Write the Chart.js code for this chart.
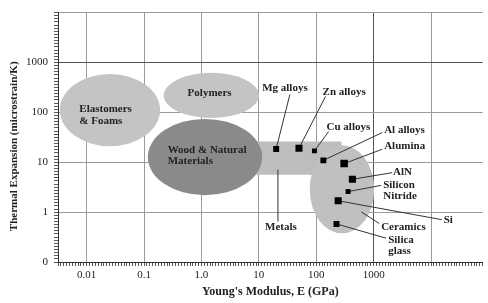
<!DOCTYPE html>
<html>
<head>
<meta charset="utf-8">
<script src="https://cdn.jsdelivr.net/npm/chart.js@4.4.1/dist/chart.umd.min.js"></script>
<style>
  html, body { margin: 0; padding: 0; background: #fff; }
  canvas { display: block; }
</style>
</head>
<body>
<canvas id="chart" width="488" height="303"></canvas>
<script>
// Material families (drawn as filled regions, in data units)
const regionNames = ['Elastomers & Foams', 'Polymers', 'Metals', 'Ceramics', 'Wood & Natural Materials'];
const regionShape = ['ellipse', 'ellipse', 'box', 'ellipse', 'ellipse'];
const regionXMin = [0.0034, 0.22, 1, 77, 0.116];
const regionXMax = [0.19, 10, 275, 1024, 11.4];
const regionYMin = [21, 77, 5.6, 0.376, 2.18];
const regionYMax = [590, 620, 26, 21.8, 74];

// Individual materials (black squares)
const materials = ['Mg alloys', 'Zn alloys', 'Cu alloys', 'Al alloys', 'Alumina', 'AlN', 'Silicon Nitride', 'Si', 'Silica glass'];
const modulus = [20, 50, 93, 133, 306, 426, 359, 241, 225];
const expansion = [18.5, 19.1, 16.9, 10.9, 9.4, 4.56, 2.58, 1.69, 0.58];

// Callout labels for the materials, with leader line end points
const materialLabels = ['Mg alloys', 'Zn alloys', 'Cu alloys', 'Al alloys', 'Alumina', 'AlN', 'Silicon\nNitride', 'Si', 'Silica\nglass'];
const labelX = [11.4, 129, 151, 1525, 1525, 2183, 1466, 16650, 1790];
const labelY = [299, 250, 51.5, 45, 20.9, 6.45, 2.68, 0.675, 0.213];
const leaderX = [34.7, 145, 164, 1409, 1409, 2099, 1350, 15380, 1652];
const leaderY = [228, 209, 41.1, 39.3, 18.2, 6.17, 3.43, 0.706, 0.30];

// Region labels
const regionLabels = ['Elastomers\n& Foams', 'Polymers', 'Wood & Natural\nMaterials', 'Metals', 'Ceramics'];
const regionLabelX = [0.00744, 0.573, 0.258, 12.8, 1350];
const regionLabelY = [88.5, 239, 13.6, 0.49, 0.49];
// pointers from inside a region to its label
const pointerX0 = [21.5, 610];
const pointerY0 = [7.06, 1.01];
const pointerX1 = [21.5, 1250];
const pointerY1 = [0.645, 0.59];

// Axis tick labels
const xTickValues = [0.01, 0.1, 1, 10, 100, 1000];
const xTickLabels = ['0.01', '0.1', '1.0', '10', '100', '1000'];
const yTickValues = [0.1, 1, 10, 100, 1000];
const yTickLabels = ['0', '1', '10', '100', '1000'];

const yTitle = 'Thermal Expansion (microstrain/K)';

const regionColors = {
    'Elastomers & Foams': '#c4c4c4',
    'Polymers': '#c4c4c4',
    'Metals': '#bdbdbd',
    'Ceramics': '#c0c0c0',
    'Wood & Natural Materials': '#8a8a8a'
};

Chart.defaults.font.family = '"Liberation Serif", "DejaVu Serif", serif';
Chart.defaults.color = '#222';

function isDecade(v) {
    const l = Math.log10(v);
    return Math.abs(l - Math.round(l)) < 1e-6;
}

function tickLabel(values, labels, v) {
    for (let i = 0; i < values.length; i++) {
        if (Math.abs(Math.log10(v) - Math.log10(values[i])) < 1e-6) return labels[i];
    }
    return '';
}

function drawText(ctx, text, px, py) {
    const lines = text.split('\n');
    const lh = 11.5;
    const start = py - (lines.length - 1) * lh / 2;
    lines.forEach((t, i) => ctx.fillText(t, px, start + i * lh));
}

const regionPlugin = {
    id: 'regions',
    beforeDatasetsDraw(chart) {
        const { ctx, chartArea, scales: { x, y } } = chart;
        ctx.save();
        ctx.beginPath();
        ctx.rect(chartArea.left, chartArea.top, chartArea.width, chartArea.height);
        ctx.clip();

        regionNames.forEach((name, i) => {
            const x0 = x.getPixelForValue(regionXMin[i]);
            const x1 = x.getPixelForValue(regionXMax[i]);
            const y0 = y.getPixelForValue(regionYMax[i]);
            const y1 = y.getPixelForValue(regionYMin[i]);
            ctx.fillStyle = regionColors[name];
            ctx.beginPath();
            if (regionShape[i] === 'box') {
                ctx.rect(x0, y0, x1 - x0, y1 - y0);
            } else {
                ctx.ellipse((x0 + x1) / 2, (y0 + y1) / 2, (x1 - x0) / 2, (y1 - y0) / 2, 0, 0, Math.PI * 2);
            }
            ctx.fill();
        });

        // leader lines
        ctx.strokeStyle = '#333';
        ctx.lineWidth = 1;
        materials.forEach((m, i) => {
            ctx.beginPath();
            ctx.moveTo(x.getPixelForValue(modulus[i]), y.getPixelForValue(expansion[i]));
            ctx.lineTo(x.getPixelForValue(leaderX[i]), y.getPixelForValue(leaderY[i]));
            ctx.stroke();
        });
        pointerX0.forEach((v, i) => {
            ctx.beginPath();
            ctx.moveTo(x.getPixelForValue(v), y.getPixelForValue(pointerY0[i]));
            ctx.lineTo(x.getPixelForValue(pointerX1[i]), y.getPixelForValue(pointerY1[i]));
            ctx.stroke();
        });
        ctx.restore();
    },
    afterDatasetsDraw(chart) {
        const { ctx, scales: { x, y } } = chart;
        ctx.save();
        ctx.fillStyle = '#222';
        ctx.font = 'bold 11px "Liberation Serif", serif';
        ctx.textAlign = 'left';
        ctx.textBaseline = 'middle';
        materialLabels.forEach((t, i) => {
            drawText(ctx, t, x.getPixelForValue(labelX[i]), y.getPixelForValue(labelY[i]));
        });
        regionLabels.forEach((t, i) => {
            drawText(ctx, t, x.getPixelForValue(regionLabelX[i]), y.getPixelForValue(regionLabelY[i]));
        });

        // y axis title, sits a bit below the axis centre in the original
        const ya = chart.scales.y;
        ctx.translate(14, (ya.top + ya.bottom) / 2 + 9);
        ctx.rotate(-Math.PI / 2);
        ctx.textAlign = 'center';
        ctx.fillText(yTitle, 0, 0);
        ctx.restore();
    }
};

function gridColor(ctx) {
    const v = ctx.tick && ctx.tick.value;
    if (!v || !isDecade(v)) return 'rgba(0,0,0,0)';
    return Math.abs(Math.log10(v) - 3) < 1e-6 ? '#555' : '#9a9a9a';
}

new Chart(document.getElementById('chart'), {
    type: 'scatter',
    data: {
        datasets: [{
            label: 'Materials',
            data: materials.map((m, i) => ({ x: modulus[i], y: expansion[i] })),
            pointStyle: 'rect',
            backgroundColor: '#000',
            borderWidth: 0,
            pointRadius: [4.2, 5, 3.5, 4.2, 5.3, 5, 3.5, 5, 4.2]
        }]
    },
    options: {
        responsive: false,
        animation: false,
        layout: { padding: { top: 7, right: 0, left: 0, bottom: 0 } },
        plugins: {
            legend: { display: false },
            tooltip: { enabled: false }
        },
        scales: {
            x: {
                type: 'logarithmic',
                min: Math.pow(10, -2.5),
                max: Math.pow(10, 4.9),
                afterBuildTicks(axis) {
                    const t = [];
                    for (let k = -50; k <= 98; k++) t.push({ value: Math.pow(10, k / 20) });
                    axis.ticks = t;
                },
                afterFit(axis) { axis.height = 41; },
                ticks: {
                    autoSkip: false,
                    maxRotation: 0,
                    padding: 3,
                    font: { size: 11 },
                    callback: (v) => tickLabel(xTickValues, xTickLabels, v)
                },
                grid: {
                    color: gridColor,
                    tickColor: '#555',
                    tickLength: 4
                },
                border: { color: '#333', width: 1 },
                title: {
                    display: true,
                    text: "Young's Modulus, E (GPa)",
                    font: { size: 12, weight: 'bold' },
                    padding: { top: 4, bottom: 4 }
                }
            },
            y: {
                type: 'logarithmic',
                min: 0.1,
                max: 10000,
                afterBuildTicks(axis) {
                    const t = [];
                    for (let k = -16; k <= 64; k++) t.push({ value: Math.pow(10, k / 16) });
                    axis.ticks = t;
                },
                afterFit(axis) { axis.width = 58; },
                ticks: {
                    autoSkip: false,
                    padding: 6,
                    font: { size: 11 },
                    callback: (v) => tickLabel(yTickValues, yTickLabels, v)
                },
                grid: {
                    color: gridColor,
                    tickColor: '#555',
                    tickLength: 4
                },
                border: { color: '#333', width: 1 },
                title: { display: false }
            }
        }
    },
    plugins: [regionPlugin]
});
</script>
</body>
</html>
